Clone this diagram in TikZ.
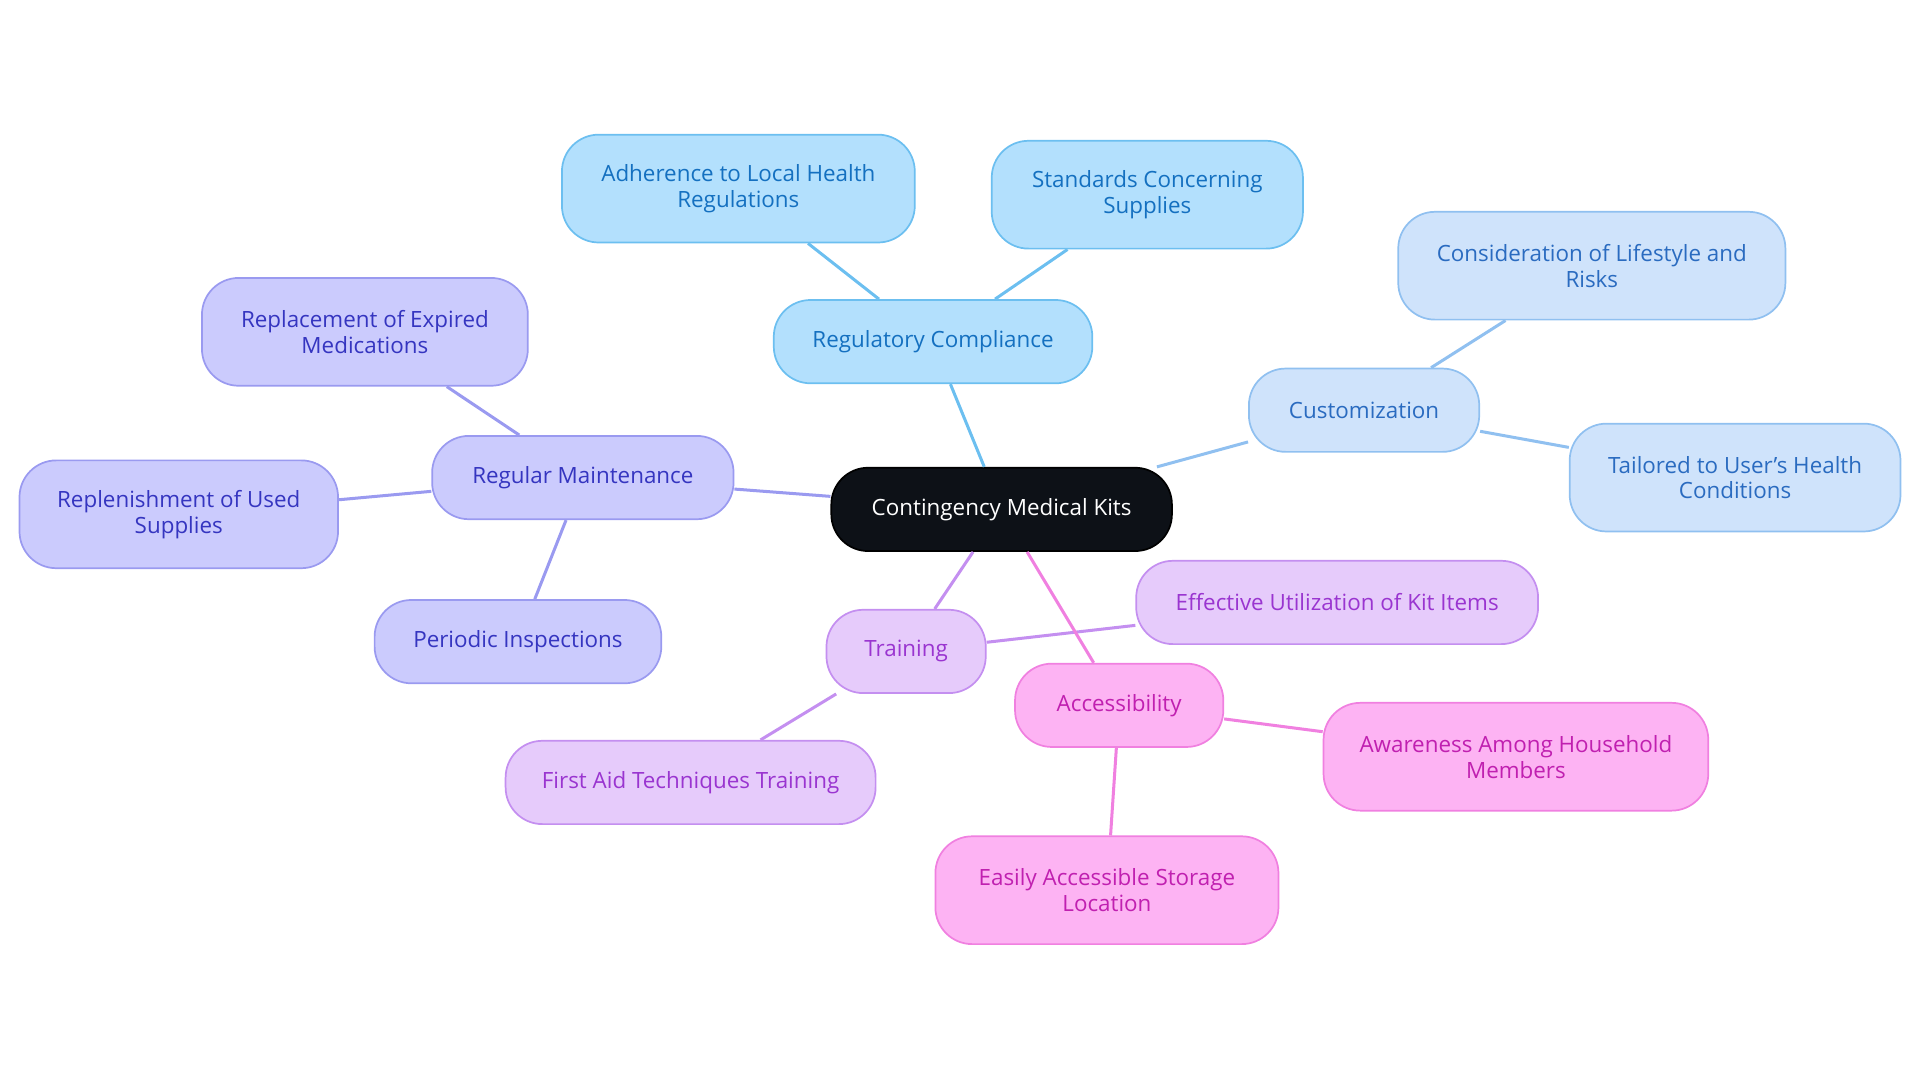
\documentclass[tikz,border=0pt]{standalone}
\usepackage{fontspec}
\setmainfont{Open Sans}
\definecolor{rootc}{HTML}{0D1117}
\definecolor{bluef}{HTML}{B3E0FD}\definecolor{blued}{HTML}{6CBFF0}\definecolor{bluet}{HTML}{1470C0}
\definecolor{skyf}{HTML}{CFE3FB}\definecolor{skyd}{HTML}{90C0F0}\definecolor{skyt}{HTML}{2A6BC0}
\definecolor{vioF}{HTML}{CBCBFD}\definecolor{vioD}{HTML}{9A9AF0}\definecolor{vioT}{HTML}{3535C0}
\definecolor{purf}{HTML}{E6CBFB}\definecolor{purd}{HTML}{C48FF0}\definecolor{purt}{HTML}{9A35D0}
\definecolor{pinf}{HTML}{FDB3F3}\definecolor{pind}{HTML}{F080E0}\definecolor{pint}{HTML}{C020B0}
\tikzset{
  box/.style={draw, rounded corners=0.3cm, line width=0.4pt, align=center,
    font=\fontsize{5.2}{6}\selectfont, inner sep=0pt},
  blue/.style={box, fill=bluef, draw=blued, text=bluet},
  sky/.style={box, fill=skyf, draw=skyd, text=skyt},
  vio/.style={box, fill=vioF, draw=vioD, text=vioT},
  pur/.style={box, fill=purf, draw=purd, text=purt},
  pin/.style={box, fill=pinf, draw=pind, text=pint},
}
\begin{document}
\begin{tikzpicture}[x=0.01cm,y=-0.01cm]
    \useasboundingbox (0,0) rectangle (1568,884);
    \node[box,fill=rootc,text=white,minimum width=2.78cm,minimum height=0.68cm] (root) at (818,416) {Contingency Medical Kits};
    \node[blue,minimum width=2.6cm,minimum height=0.68cm] (reg) at (762,279) {Regulatory Compliance};
    \node[blue,minimum width=2.88cm,minimum height=0.88cm] (adh) at (603,154) {Adherence to Local Health\\Regulations};
    \node[blue,minimum width=2.54cm,minimum height=0.88cm] (std) at (937,159) {Standards Concerning\\Supplies};
    \node[sky,minimum width=1.88cm,minimum height=0.68cm] (cus) at (1114,335) {Customization};
    \node[sky,minimum width=3.16cm,minimum height=0.88cm] (con) at (1300,217) {Consideration of Lifestyle and\\Risks};
    \node[sky,minimum width=2.7cm,minimum height=0.88cm] (tai) at (1417,390) {Tailored to User's Health\\Conditions};
    \node[vio,minimum width=2.46cm,minimum height=0.68cm] (mnt) at (476,390) {Regular Maintenance};
    \node[vio,minimum width=2.66cm,minimum height=0.88cm] (rep) at (298,271) {Replacement of Expired\\Medications};
    \node[vio,minimum width=2.6cm,minimum height=0.88cm] (rpl) at (146,420) {Replenishment of Used\\Supplies};
    \node[vio,minimum width=2.34cm,minimum height=0.68cm] (per) at (423,524) {Periodic Inspections};
    \node[pur,minimum width=1.3cm,minimum height=0.68cm] (trn) at (740,532) {Training};
    \node[pur,minimum width=3.28cm,minimum height=0.68cm] (eff) at (1092,492) {Effective Utilization of Kit Items};
    \node[pur,minimum width=3.02cm,minimum height=0.68cm] (fst) at (564,639) {First Aid Techniques Training};
    \node[pin,minimum width=1.7cm,minimum height=0.68cm] (acc) at (914,576) {Accessibility};
    \node[pin,minimum width=3.14cm,minimum height=0.88cm] (awa) at (1238,618) {Awareness Among Household\\Members};
    \node[pin,minimum width=2.8cm,minimum height=0.88cm] (eas) at (904,727) {Easily Accessible Storage\\Location};
    \draw[blued,line width=0.7pt] (root) -- (reg) (reg) -- (adh) (reg) -- (std);
    \draw[skyd,line width=0.7pt] (root) -- (cus) (cus) -- (con) (cus) -- (tai);
    \draw[vioD,line width=0.7pt] (root) -- (mnt) (mnt) -- (rep) (mnt) -- (rpl) (mnt) -- (per);
    \draw[purd,line width=0.7pt] (root) -- (trn) (trn) -- (eff) (trn) -- (fst);
    \draw[pind,line width=0.7pt] (root) -- (acc) (acc) -- (awa) (acc) -- (eas);
\end{tikzpicture}
\end{document}
